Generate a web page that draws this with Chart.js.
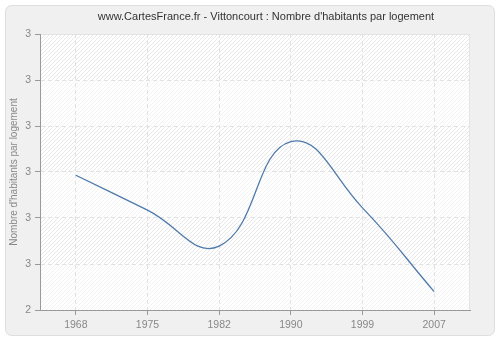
<!DOCTYPE html>
<html>
<head>
<meta charset="utf-8">
<script src="https://cdn.jsdelivr.net/npm/chart.js@4/dist/chart.umd.min.js"></script>
<style>
    html, body { margin: 0; padding: 0; background: #fff; }
    #wrap { width: 500px; height: 340px; }
</style>
</head>
<body>
<div id="wrap"><canvas id="chart" width="500" height="340"></canvas></div>
<script>
// data
const years = ['1968', '1975', '1982', '1990', '1999', '2007'];
const habitants = [2.693, 2.617, 2.539, 2.766, 2.622, 2.44];
const yMin = 2.4;
const yMax = 3.0;
const yStep = 0.1;

const titleText = "www.CartesFrance.fr - Vittoncourt : Nombre d'habitants par logement";
const fontFam = '"Liberation Sans", Arial, sans-serif';

function hatchPattern(ctx, color) {
    const c = document.createElement('canvas');
    c.width = 4; c.height = 4;
    const p = c.getContext('2d');
    p.fillStyle = '#ffffff';
    p.fillRect(0, 0, 4, 4);
    p.strokeStyle = color;
    p.lineWidth = 1;
    p.beginPath();
    p.moveTo(0, 4); p.lineTo(4, 0);
    p.moveTo(-1, 1); p.lineTo(1, -1);
    p.moveTo(3, 5); p.lineTo(5, 3);
    p.stroke();
    return ctx.createPattern(c, 'repeat');
}

// panel, plot background and title
const backdrop = {
    id: 'backdrop',
    beforeDraw(chart) {
        const { ctx, chartArea: a, scales } = chart;
        ctx.save();
        ctx.fillStyle = '#ffffff';
        ctx.fillRect(0, 0, chart.width, chart.height);
        ctx.beginPath();
        ctx.roundRect(5.5, 5.5, 489, 330, 6);
        ctx.fillStyle = '#f0f0f0';
        ctx.fill();
        ctx.strokeStyle = '#dedede';
        ctx.lineWidth = 1;
        ctx.stroke();

        const dark = hatchPattern(ctx, '#e8e8e8');
        const light = hatchPattern(ctx, '#f3f3f3');
        const y = scales.y;
        let band = 0;
        for (let v = yMax; v > yMin + 1e-9; v -= yStep) {
            const top = y.getPixelForValue(v);
            const bot = y.getPixelForValue(v - yStep);
            ctx.fillStyle = band % 2 === 0 ? dark : light;
            ctx.fillRect(a.left, top, a.right - a.left, bot - top);
            band++;
        }
        ctx.strokeStyle = '#e4e4e4';
        ctx.beginPath();
        ctx.moveTo(a.left, a.top + 0.5);
        ctx.lineTo(a.right - 0.5, a.top + 0.5);
        ctx.lineTo(a.right - 0.5, a.bottom);
        ctx.stroke();

        ctx.fillStyle = '#333333';
        ctx.font = '11px ' + fontFam;
        ctx.textAlign = 'center';
        ctx.textBaseline = 'middle';
        ctx.fillText(titleText, 266, 17);
        ctx.restore();
    },
};

new Chart(document.getElementById('chart'), {
    type: 'line',
    data: {
        labels: years,
        datasets: [{
            data: habitants,
            borderColor: '#4f7bab',
            borderWidth: 1.3,
            tension: 0.45,
            pointRadius: 0,
            fill: false,
        }],
    },
    options: {
        responsive: false,
        animation: false,
        layout: { padding: { left: 0, right: 30, top: 34, bottom: 0 } },
        plugins: { legend: { display: false }, tooltip: { enabled: false } },
        scales: {
            x: {
                offset: true,
                afterFit: (s) => { s.height = 30; },
                grid: {
                    offset: false,
                    color: '#e2e2e2',
                    tickColor: '#999999',
                    tickLength: 5,
                    tickBorderDash: [],
                },
                border: { color: '#999999', dash: [4, 3] },
                ticks: {
                    color: '#888888',
                    font: { family: fontFam, size: 10.5 },
                    padding: 4,
                    maxRotation: 0,
                },
            },
            y: {
                min: yMin,
                max: yMax,
                afterFit: (s) => { s.width = 40; },
                afterBuildTicks: (s) => {
                    const t = [];
                    for (let i = 0; i <= Math.round((yMax - yMin) / yStep); i++) {
                        t.push({ value: +(yMin + i * yStep).toFixed(2) });
                    }
                    s.ticks = t;
                },
                grid: {
                    color: (c) => (c.index === 0 ? 'rgba(0,0,0,0)' : '#e2e2e2'),
                    tickColor: '#999999',
                    tickLength: 5,
                    tickBorderDash: [],
                },
                border: { color: '#999999', dash: [4, 3] },
                ticks: {
                    color: '#888888',
                    font: { family: fontFam, size: 10.5 },
                    padding: 4,
                    callback: (v) => Math.round(v + 1e-9).toString(),
                },
                title: {
                    display: true,
                    text: "Nombre d'habitants par logement",
                    color: '#888888',
                    font: { family: fontFam, size: 10 },
                    padding: { top: 8, bottom: 0 },
                },
            },
        },
    },
    plugins: [backdrop],
});
</script>
</body>
</html>
